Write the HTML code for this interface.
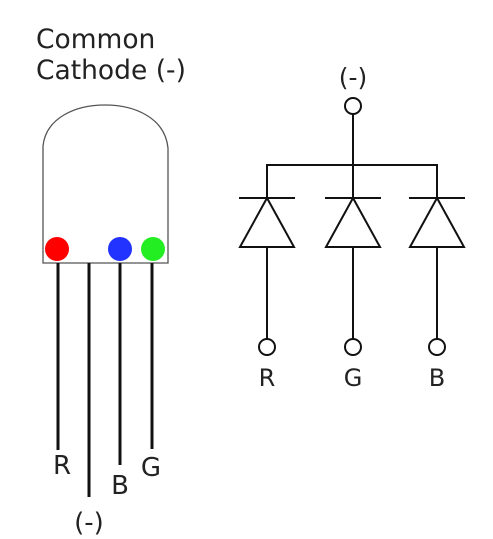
<!DOCTYPE html>
<html><head><meta charset="utf-8"><style>
html,body{margin:0;padding:0;background:#fff;}
svg{display:block;}
text{font-family:"DejaVu Sans","Liberation Sans",sans-serif;fill:#222;}
</style></head><body>
<svg width="493" height="539" viewBox="0 0 493 539">
<g>
<text x="36" y="48" font-size="26.5">Common</text>
<text x="36" y="79" font-size="26.5">Cathode (-)</text>
<path d="M43,263 L43,146 C46,118 75,105 105,105 C135,105 165,118 168,148 L168,263 Z" fill="none" stroke="#555" stroke-width="1.3"/>
<circle cx="57" cy="249" r="12" fill="#ff0000"/>
<circle cx="120" cy="249" r="12" fill="#2233ff"/>
<circle cx="153" cy="249" r="12" fill="#22ee22"/>
<g stroke="#111" stroke-width="3">
<line x1="58" y1="263" x2="58" y2="450"/>
<line x1="89" y1="263" x2="89" y2="497"/>
<line x1="120" y1="263" x2="120" y2="465"/>
<line x1="152" y1="263" x2="152" y2="449"/>
</g>
<g font-size="26" text-anchor="middle">
<text x="62" y="474">R</text>
<text x="89" y="531">(-)</text>
<text x="120" y="494">B</text>
<text x="151" y="476">G</text>
</g>
</g>
<g stroke="#111" stroke-width="2" fill="none">
<text x="353" y="86" font-size="25" text-anchor="middle" stroke="none">(-)</text>
<circle cx="353" cy="106" r="8" fill="#fff"/>
<line x1="353" y1="114" x2="353" y2="198"/>
<polyline points="267,198 267,165 437,165 437,198"/>
<g>
<line x1="239" y1="198" x2="295" y2="198"/><polygon points="267,198 240,247 294,247"/><line x1="267" y1="247" x2="267" y2="339"/><circle cx="267" cy="347" r="8" fill="#fff"/></g>
<g>
<line x1="325" y1="198" x2="381" y2="198"/><polygon points="353,198 326,247 380,247"/><line x1="353" y1="247" x2="353" y2="339"/><circle cx="353" cy="347" r="8" fill="#fff"/></g>
<g>
<line x1="409" y1="198" x2="465" y2="198"/><polygon points="437,198 410,247 464,247"/><line x1="437" y1="247" x2="437" y2="339"/><circle cx="437" cy="347" r="8" fill="#fff"/></g>
<g font-size="24" text-anchor="middle" stroke="none">
<text x="267" y="386">R</text>
<text x="353" y="386">G</text>
<text x="437" y="386">B</text>
</g>
</g>
</svg>
</body></html>
